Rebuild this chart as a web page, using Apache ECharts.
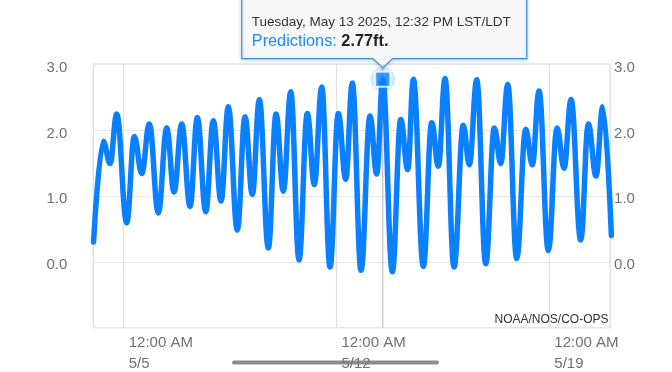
<!DOCTYPE html>
<html>
<head>
<meta charset="utf-8">
<script src="https://cdn.jsdelivr.net/npm/echarts@6/dist/echarts.min.js"></script>
<style>
html,body{margin:0;padding:0;background:#ffffff;}
#chart{width:672px;height:372px;}
</style>
</head>
<body>
<div id="chart"></div>
<script>
// ---- Data (tide prediction highs & lows, ft) ----
const extremaTimes = [
  '2025-05-04 00:11','2025-05-04 07:55','2025-05-04 13:13','2025-05-04 18:30',
  '2025-05-05 02:23','2025-05-05 08:23','2025-05-05 14:14','2025-05-05 20:14',
  '2025-05-06 03:20','2025-05-06 09:58','2025-05-06 15:44','2025-05-06 21:49',
  '2025-05-07 04:22','2025-05-07 10:08','2025-05-07 16:46','2025-05-07 22:46',
  '2025-05-08 04:50','2025-05-08 10:36','2025-05-08 17:43','2025-05-08 23:47',
  '2025-05-09 05:33','2025-05-09 11:05','2025-05-09 18:11','2025-05-10 00:16',
  '2025-05-10 06:02','2025-05-10 11:52','2025-05-10 18:25','2025-05-11 00:58',
  '2025-05-11 06:30','2025-05-11 12:20','2025-05-11 18:53','2025-05-12 01:27',
  '2025-05-12 07:17','2025-05-12 12:30','2025-05-12 19:22','2025-05-13 02:28',
  '2025-05-13 07:46','2025-05-13 12:32','2025-05-13 20:05','2025-05-14 02:43',
  '2025-05-14 08:14','2025-05-14 12:40','2025-05-14 20:33','2025-05-15 03:11',
  '2025-05-15 08:23','2025-05-15 13:41','2025-05-15 20:47','2025-05-16 04:08',
  '2025-05-16 08:52','2025-05-16 14:43','2025-05-16 21:49','2025-05-17 04:37',
  '2025-05-17 09:40','2025-05-17 15:11','2025-05-17 22:17','2025-05-18 05:23',
  '2025-05-18 10:36','2025-05-18 15:53','2025-05-18 23:14','2025-05-19 06:07',
  '2025-05-19 11:38','2025-05-19 17:10','2025-05-20 00:49','2025-05-20 06:49',
  '2025-05-20 12:53','2025-05-20 18:11','2025-05-21 01:00'
];
const extremaValues = [
  0.30, 1.83, 1.49, 2.24,
  0.59, 1.90, 1.34, 2.09,
  0.74, 2.03, 1.06, 2.09,
  0.84, 2.19, 0.76, 2.14,
  0.92, 2.35, 0.48, 2.20,
  1.02, 2.46, 0.21, 2.24,
  1.07, 2.58, 0.03, 2.25,
  1.17, 2.65, -0.08, 2.25,
  1.25, 2.71, -0.13, 2.21,
  1.33, 2.77, -0.15, 2.16,
  1.40, 2.77, -0.07, 2.11,
  1.45, 2.78, -0.08, 2.07,
  1.47, 2.76, -0.03, 2.03,
  1.49, 2.69, 0.05, 2.01,
  1.47, 2.59, 0.17, 2.03,
  1.42, 2.46, 0.33, 2.09,
  1.30, 2.35, 0.40
];
const xRange = ['2025-05-04 00:00', '2025-05-21 00:00'];
const xTickTimes = ['2025-05-05 00:00', '2025-05-12 00:00', '2025-05-19 00:00'];
const xTickLabels = ['12:00 AM\n5/5', '12:00 AM\n5/12', '12:00 AM\n5/19'];
const yRange = [-1, 3];
const yTickLabels = ['0.0', '1.0', '2.0', '3.0'];
const seriesName = 'Predictions';
const highlightTime = '2025-05-13 12:32';
const highlightValue = 2.77;
const tooltipTitle = 'Tuesday, May 13 2025, 12:32 PM LST/LDT';
const tooltipValueText = '2.77ft.';
const sourceText = 'NOAA/NOS/CO-OPS';

// ---- helpers: times -> hours since the start of the x range ----
function ms(s) {
  const m = s.match(/(\d+)-(\d+)-(\d+) (\d+):(\d+)/);
  return Date.UTC(+m[1], +m[2] - 1, +m[3], +m[4], +m[5]);
}
const T0 = ms(xRange[0]);
function H(s) { return (ms(s) - T0) / 3600000; }

const xTickVals = xTickTimes.map(H);
function xLabel(v) {
  for (let i = 0; i < xTickVals.length; i++) {
    if (Math.abs(xTickVals[i] - v) < 0.01) return xTickLabels[i];
  }
  return '';
}
function yLabel(v) {
  const i = Math.round(v);
  return (i >= 0 && i < yTickLabels.length) ? yTickLabels[i] : '';
}

const FONT = '"Liberation Sans", Arial, Helvetica, sans-serif';
const BLUE = '#0a80ff';

const chart = echarts.init(document.getElementById('chart'), null, {renderer: 'canvas'});

const lineData = extremaTimes.map((t, i) => [H(t), extremaValues[i]]);
const hx = H(highlightTime);

const yLabelStyle = {
  formatter: yLabel, verticalAlign: 'top', lineHeight: 7,
  color: '#707070', fontSize: 15, fontFamily: FONT
};

const option = {
  animation: false,
  backgroundColor: '#ffffff',
  grid: {
    left: 93.3, right: 61.9, top: 64, bottom: 44.3,
    outerBoundsMode: 'none', containLabel: false,
    show: true, borderColor: '#d3dae8', borderWidth: 1.2, backgroundColor: 'transparent'
  },
  xAxis: {
    type: 'value',
    min: H(xRange[0]), max: H(xRange[1]),
    axisLine: {show: false},
    axisTick: {show: true, customValues: xTickVals, length: 13, lineStyle: {color: '#dae1ee', width: 1.2}},
    splitLine: {show: true, lineStyle: {color: '#dae1ee', width: 1.2}},
    axisLabel: {
      customValues: xTickVals,
      formatter: xLabel,
      align: 'left', verticalAlign: 'top',
      margin: 5, padding: [0, 0, 0, 5],
      color: '#707070', fontSize: 15, lineHeight: 20.5, fontFamily: FONT,
      showMinLabel: true, showMaxLabel: true, hideOverlap: false
    }
  },
  yAxis: [
    {
      type: 'value', position: 'left', min: yRange[0], max: yRange[1], interval: 1,
      axisLine: {show: false}, axisTick: {show: false},
      splitLine: {show: true, lineStyle: {color: '#e6e6e6', width: 1.2}},
      axisLabel: Object.assign({margin: 26}, yLabelStyle)
    },
    {
      type: 'value', position: 'right', min: yRange[0], max: yRange[1], interval: 1,
      axisLine: {show: false}, axisTick: {show: false}, splitLine: {show: false},
      axisLabel: Object.assign({margin: 4}, yLabelStyle)
    }
  ],
  series: [
    {
      name: 'crosshair', type: 'line', z: 1, silent: true,
      data: [[hx, yRange[0]], [hx, yRange[1]]],
      showSymbol: false, symbol: 'none',
      lineStyle: {color: '#c2c2c2', width: 1.2}
    },
    {
      name: seriesName, type: 'line', z: 3,
      data: lineData,
      smooth: 0.4, smoothMonotone: 'x',
      showSymbol: false, symbol: 'none', clip: true,
      lineStyle: {color: BLUE, width: 5.5, cap: 'round', join: 'round'}
    },
    {
      name: 'halo', type: 'scatter', z: 4, silent: true,
      data: [[hx, highlightValue]],
      symbol: 'circle', symbolSize: 25,
      itemStyle: {color: 'rgba(10,128,255,0.22)'}
    },
    {
      name: 'point', type: 'scatter', z: 5, silent: true,
      data: [[hx, highlightValue]],
      symbol: 'rect', symbolSize: 15,
      itemStyle: {color: BLUE, borderColor: '#ffffff', borderWidth: 2}
    }
  ]
};
chart.setOption(option);

// Tooltip callout positioned from the highlighted data point
const p = chart.convertToPixel({xAxisIndex: 0, yAxisIndex: 0}, [hx, highlightValue]);
const px = p[0], py = p[1];
const boxL = px - 141, boxR = px + 144, boxT = -6, boxB = py - 20.5;
const tipY = py - 11.5, half = 10;

chart.setOption({
  graphic: [
    {
      type: 'polygon', z: 50,
      shape: {points: [[boxL, boxT], [boxR, boxT], [boxR, boxB], [px + half, boxB], [px, tipY], [px - half, boxB], [boxL, boxB]]},
      style: {fill: '#f8f8f8', stroke: '#3391f2', lineWidth: 1.2, shadowBlur: 4, shadowColor: 'rgba(0,0,0,0.18)', shadowOffsetY: 1}
    },
    {
      type: 'text', z: 51, left: boxL + 10, top: 15,
      style: {text: tooltipTitle, fill: '#333333', fontSize: 13.5, fontFamily: FONT}
    },
    {
      type: 'text', z: 51, left: boxL + 10, top: 33.5,
      style: {
        text: '{a|' + seriesName + ': }{b|' + tooltipValueText + '}',
        fontFamily: FONT,
        rich: {
          a: {fill: '#1a8cff', fontSize: 16.3, fontFamily: FONT},
          b: {fill: '#222222', fontSize: 16.3, fontWeight: 'bold', fontFamily: FONT}
        }
      }
    },
    {
      type: 'text', z: 20, right: 672 - 608.5, top: 313.5,
      style: {text: sourceText, fill: '#333333', fontSize: 12, fontFamily: FONT}
    },
    {
      type: 'rect', z: 100,
      shape: {x: 232, y: 360.5, width: 207, height: 4, r: 2},
      style: {fill: 'rgba(120,120,120,0.85)'}
    }
  ]
});
</script>
</body>
</html>
